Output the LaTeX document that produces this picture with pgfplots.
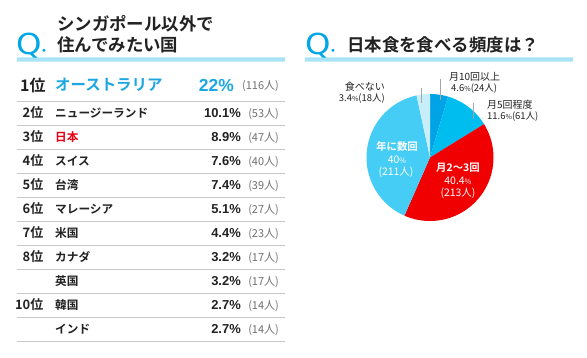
\documentclass[border=0pt]{standalone}
\usepackage{pgfplots}
\pgfplotsset{compat=1.18}
\usepackage{fontspec}
\setmainfont{Noto Sans CJK JP}[BoldFont={Noto Sans CJK JP Bold}]
\newfontfamily\lat{Liberation Sans}
\newfontfamily\qfont{DejaVu Sans}
\definecolor{qcyan}{HTML}{00A7E6}
\definecolor{barcyan}{HTML}{A8E4F6}
\definecolor{topcyan}{HTML}{1AA7E2}
\definecolor{jpred}{HTML}{E60012}
\definecolor{txt}{HTML}{222222}
\definecolor{cnt}{HTML}{707070}
\definecolor{rule}{HTML}{C8C8C8}
\definecolor{pA}{HTML}{00A3E6}
\definecolor{pB}{HTML}{00BDF0}
\definecolor{pC}{HTML}{F00000}
\definecolor{pD}{HTML}{45CDF5}
\definecolor{pE}{HTML}{C8EEF9}
\newcommand{\fs}[1]{\fontsize{#1}{#1}\selectfont}
\begin{document}
\begin{tikzpicture}
\begin{axis}[
  scale only axis, width=587bp, height=358bp,
  xmin=0, xmax=587, ymin=0, ymax=358, y dir=reverse,
  hide axis, clip=false,
  /pgf/number format/assume math mode=true,
]
% background
\addplot[fill=white, draw=none] coordinates {(0,0) (587,0) (587,358) (0,358) (0,0)};

% ---------- left title ----------
\addplot[fill=barcyan, draw=none] coordinates {(17,57.5) (285,57.5) (285,61.5) (17,61.5) (17,57.5)};
\node[anchor=base west, inner sep=0pt, text=qcyan] at (axis cs:16,54) {\qfont\fs{29}\scalebox{1.12}[1]{Q}\kern-0.5pt\fs{10}\textbullet};
\node[anchor=west, inner sep=0pt, text=txt] at (axis cs:57,23.5) {\bfseries\fs{17.5}シンガポール以外で};
\node[anchor=west, inner sep=0pt, text=txt] at (axis cs:57,45) {\bfseries\fs{17.5}住んでみたい国};

% ---------- right title ----------
\addplot[fill=barcyan, draw=none] coordinates {(305,57.5) (573,57.5) (573,61.5) (305,61.5) (305,57.5)};
\node[anchor=base west, inner sep=0pt, text=qcyan] at (axis cs:305,54) {\qfont\fs{29}\scalebox{1.12}[1]{Q}\kern-0.5pt\fs{10}\textbullet};
\node[anchor=west, inner sep=0pt, text=txt] at (axis cs:347,45) {\bfseries\fs{17.5}日本食を食べる頻度は？};

% ---------- table rules ----------
\pgfplotsinvokeforeach{101.5,125.5,149.5,173.3,197.3,221.2,245.2,269.3,293.3,317.3,341.3}{
  \addplot[rule, line width=1bp] coordinates {(17,#1) (285,#1)};
}

% ---------- row 1 ----------
\addplot[only marks, mark=none, point meta=explicit symbolic, nodes near coords,
  every node near coord/.append style={anchor=west, inner sep=0pt, font=\bfseries\fs{16}, text=txt}]
  coordinates {(20,85) [1位]};
\addplot[only marks, mark=none, point meta=explicit symbolic, nodes near coords,
  every node near coord/.append style={anchor=west, inner sep=0pt, font=\bfseries\fs{15.5}, text=topcyan}]
  coordinates {(55,85) [オーストラリア]};
\addplot[only marks, mark=none, point meta=explicit, nodes near coords={\pgfmathprintnumber{\pgfplotspointmeta}\%},
  every node near coord/.append style={anchor=east, inner sep=0pt, font=\lat\bfseries\fs{17.5}, text=topcyan}]
  coordinates {(234,85) [22]};
\addplot[only marks, mark=none, point meta=explicit, nodes near coords={(\pgfmathprintnumber{\pgfplotspointmeta}人)},
  every node near coord/.append style={anchor=east, inner sep=0pt, font=\fs{11}, text=cnt}]
  coordinates {(279,86) [116]};

% ---------- rows 2-11: ranks ----------
\addplot[only marks, mark=none, point meta=explicit symbolic, nodes near coords,
  every node near coord/.append style={anchor=east, inner sep=0pt, font=\bfseries\fs{13}, text=txt}]
  coordinates {(43.5,113) [2位] (43.5,137) [3位] (43.5,161) [4位] (43.5,185) [5位]
               (43.5,209) [6位] (43.5,233) [7位] (43.5,257) [8位] (43.5,305) [10位]};
% names
\addplot[only marks, mark=none, point meta=explicit symbolic, nodes near coords,
  every node near coord/.append style={anchor=west, inner sep=0pt, font=\bfseries\fs{11.7}, text=txt}]
  coordinates {(55,113) [ニュージーランド] (55,137) [\textcolor{jpred}{日本}] (55,161) [スイス]
               (55,185) [台湾] (55,209) [マレーシア] (55,233) [米国] (55,257) [カナダ]
               (55,281) [英国] (55,305) [韓国] (55,329) [インド]};
% percentages
\addplot[only marks, mark=none, point meta=explicit,
  nodes near coords={\pgfmathprintnumber[fixed,fixed zerofill,precision=1]{\pgfplotspointmeta}\%},
  every node near coord/.append style={anchor=east, inner sep=0pt, font=\lat\bfseries\fs{13}, text=txt}]
  coordinates {(241,113) [10.1] (241,137) [8.9] (241,161) [7.6] (241,185) [7.4] (241,209) [5.1]
               (241,233) [4.4] (241,257) [3.2] (241,281) [3.2] (241,305) [2.7] (241,329) [2.7]};
% counts
\addplot[only marks, mark=none, point meta=explicit,
  nodes near coords={(\pgfmathprintnumber{\pgfplotspointmeta}人)},
  every node near coord/.append style={anchor=east, inner sep=0pt, font=\fs{11}, text=cnt}]
  coordinates {(279,114) [53] (279,138) [47] (279,162) [40] (279,186) [39] (279,210) [27]
               (279,234) [23] (279,258) [17] (279,282) [17] (279,306) [14] (279,330) [14]};

% ---------- pie (centre 430,157.5; r 63.5; clockwise from top) ----------
% shares: 4.6, 11.6, 40.4, 40.0, 3.4 (%)  -> cumulative degrees
\addplot[fill=pA, draw=none, domain=0:16.56, samples=10, variable=\t]
  ({430+63.5*sin(\t)}, {157.5-63.5*cos(\t)}) -- (axis cs:430,157.5) -- cycle;
\addplot[fill=pB, draw=none, domain=16.56:58.32, samples=20, variable=\t]
  ({430+63.5*sin(\t)}, {157.5-63.5*cos(\t)}) -- (axis cs:430,157.5) -- cycle;
\addplot[fill=pC, draw=none, domain=58.32:203.76, samples=60, variable=\t]
  ({430+63.5*sin(\t)}, {157.5-63.5*cos(\t)}) -- (axis cs:430,157.5) -- cycle;
\addplot[fill=pD, draw=none, domain=203.76:347.76, samples=60, variable=\t]
  ({430+63.5*sin(\t)}, {157.5-63.5*cos(\t)}) -- (axis cs:430,157.5) -- cycle;
\addplot[fill=pE, draw=none, domain=347.76:360, samples=8, variable=\t]
  ({430+63.5*sin(\t)}, {157.5-63.5*cos(\t)}) -- (axis cs:430,157.5) -- cycle;

% leader lines
\addplot[gray!70, line width=0.6bp] coordinates {(440,79) (440,100)};
\addplot[gray!70, line width=0.6bp] coordinates {(473.5,103) (473.5,119)};
\addplot[gray!70, line width=0.6bp] coordinates {(421,88) (421,103)};

% pie labels
\node[anchor=west, inner sep=0pt, text=txt] at (axis cs:449,77) {\fs{10}月10回以上};
\node[anchor=west, inner sep=0pt, text=txt] at (axis cs:451,89) {\fs{9.5}4.6{\fs{7}\%}(24人)};
\node[anchor=west, inner sep=0pt, text=txt] at (axis cs:487,105) {\fs{10}月5回程度};
\node[anchor=west, inner sep=0pt, text=txt] at (axis cs:487,117) {\fs{9.5}11.6{\fs{7}\%}(61人)};
\node[anchor=east, inner sep=0pt, text=txt] at (axis cs:385,87) {\fs{10}食べない};
\node[anchor=east, inner sep=0pt, text=txt] at (axis cs:385,98.5) {\fs{9.5}3.4{\fs{7}\%}(18人)};
\node[inner sep=0pt, text=white] at (axis cs:397,147) {\bfseries\fs{10.5}年に数回};
\node[inner sep=0pt, text=white] at (axis cs:397,160) {\fs{10.5}40{\fs{7.5}\%}};
\node[inner sep=0pt, text=white] at (axis cs:396,172) {\fs{10.5}(211人)};
\node[inner sep=0pt, text=white] at (axis cs:458,168) {\bfseries\fs{10.5}月2〜3回};
\node[inner sep=0pt, text=white] at (axis cs:458,180.5) {\fs{10.5}40.4{\fs{7.5}\%}};
\node[inner sep=0pt, text=white] at (axis cs:458,193) {\fs{10.5}(213人)};
\end{axis}
\end{tikzpicture}
\end{document}
